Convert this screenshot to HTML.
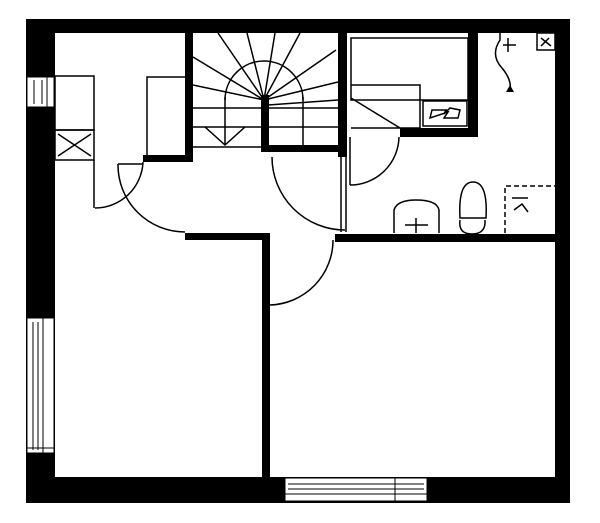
<!DOCTYPE html>
<html><head><style>html,body{margin:0;padding:0;background:#fff}svg{display:block}</style></head>
<body>
<svg width="600" height="523" viewBox="0 0 600 523" xmlns="http://www.w3.org/2000/svg">
<rect width="600" height="523" fill="#fff"/>
<g fill="#000">
<rect x="26" y="19" width="544" height="14"/>
<rect x="26" y="19" width="29" height="484"/>
<rect x="555" y="19" width="15" height="484"/>
<rect x="26" y="477" width="544" height="26"/>
<rect x="185" y="32" width="8" height="130"/>
<rect x="143" y="155" width="47" height="7"/>
<rect x="338" y="32" width="9" height="125"/>
<rect x="261" y="95" width="8" height="57"/>
<rect x="261" y="145" width="80" height="7"/>
<rect x="468" y="32" width="10" height="105"/>
<rect x="400" y="128" width="78" height="9"/>
<rect x="335" y="234" width="221" height="8"/>
<rect x="185" y="233" width="85" height="7"/>
<rect x="262" y="233" width="8" height="245"/>
</g>
<g fill="#fff" stroke="#000" stroke-width="1">
<rect x="27" y="77" width="27" height="30"/>
<rect x="27" y="318" width="27" height="135"/>
<rect x="285" y="478" width="142" height="23"/>
</g>
<g stroke="#000" stroke-width="1" fill="none">
<line x1="34" y1="80" x2="34" y2="104"/><line x1="42" y1="80" x2="42" y2="104"/><line x1="47" y1="77" x2="47" y2="107"/>
<line x1="33" y1="322" x2="33" y2="450"/><line x1="38" y1="322" x2="38" y2="450"/><line x1="43" y1="318" x2="43" y2="453"/>
<line x1="27" y1="448" x2="54" y2="448"/>
<line x1="288" y1="484" x2="424" y2="484"/><line x1="288" y1="489" x2="424" y2="489"/><line x1="285" y1="494" x2="427" y2="494"/>
<line x1="395" y1="478" x2="395" y2="501"/>
</g>
<g stroke="#000" stroke-width="1.5" fill="none">
<rect x="55" y="76" width="39" height="54"/>
<rect x="55" y="130" width="39" height="30"/>
<path d="M58 134 L91 156 M58 156 L91 134"/>
<path d="M94 160 L94 208"/>
<path d="M95 208 A48 48 0 0 0 143 162"/>
<path d="M118 164 L143 164"/>
<path d="M118 164 A67 67 0 0 0 185 232"/>
<path d="M147 155 L147 77 L186 77"/>
<path d="M225 100 A39 39 0 0 1 303 100"/>
<path d="M193 108 L338 108 M193 127 L338 127 M193 147 L261 147"/>
<path d="M225 97 L225 145 M303 97 L303 145"/>
<path d="M205 127 L225 145 L245 127"/>
<path d="M264 100 L218 33 M264 100 L247 33 M264 100 L275 33 M264 100 L300 33 M264 100 L193 57 M264 100 L193 85 M264 100 L336 50 M264 100 L338 82 M268 105 L338 100"/>
<path d="M272 157 A73 73 0 0 0 345 230"/>
<path d="M341 157 L341 232 M346 157 L346 232"/>
<path d="M270 305 A65 65 0 0 0 333 240"/>
<rect x="351" y="38" width="117" height="62"/>
<path d="M351 85 L420 85 L420 128 L351 128 M351 98 L400 128"/>
<rect x="423" y="101" width="44" height="25"/>
<path d="M430 118 L432 110 L446 110 L444 114 L450 108 L460 110 L458 118 L444 118 L448 112 Z"/>
<path d="M350 137 L350 185"/>
<path d="M399 137 A49 49 0 0 1 350 185"/>
<path d="M394 233 L394 210 Q397 200 416 200 Q437 200 439 210 L439 233"/>
<path d="M405 225 L428 225 M416 218 L416 233"/>
<path d="M460 218 Q458 182 473 182 Q488 182 486 218 Z"/>
<path d="M460 220 Q458 234 472 234 Q486 234 485 220"/>
<path d="M505 233 L505 186 L555 186" stroke-dasharray="5 3"/>
<path d="M512 198 L528 198 M514 210 L522 204 L528 212"/>
<path d="M500 32 L500 40 Q490 55 502 68 Q512 80 510 90"/>
<path d="M503 45 L516 45 M508 38 L508 52"/>
<rect x="537" y="33" width="18" height="17"/>
<path d="M541 38 L551 46 M541 46 L549 38"/>
</g>
<path d="M506 92 L514 92 L510 85 Z" fill="#000"/>
</svg>
</body></html>
